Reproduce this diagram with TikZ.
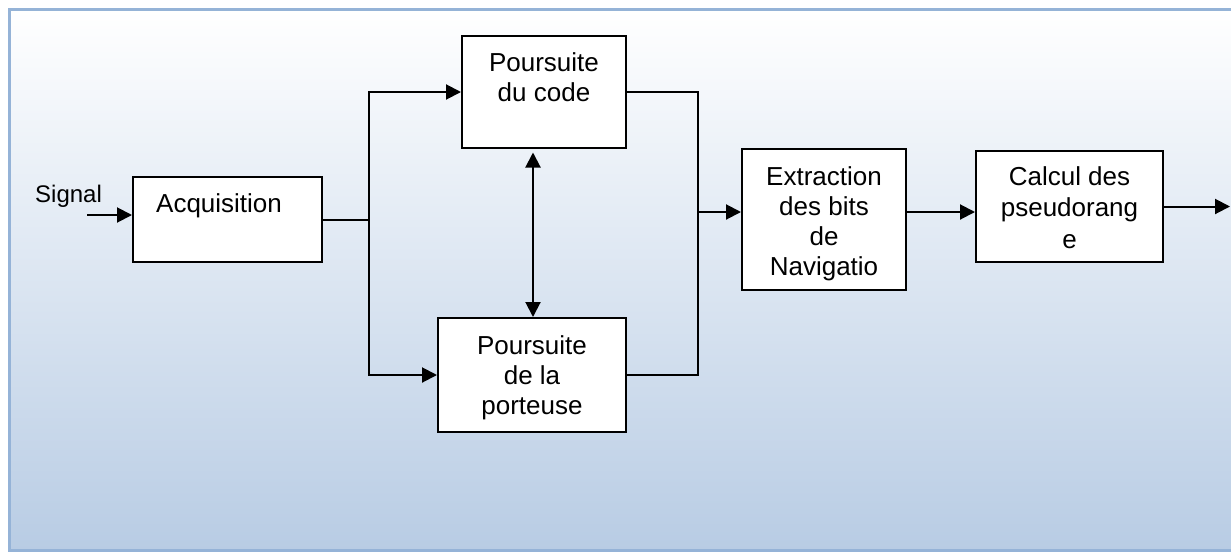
\documentclass[tikz,border=0pt]{standalone}
\usepackage{fontspec}
\setmainfont{Liberation Sans}
\usetikzlibrary{arrows.meta}
\definecolor{framecol}{RGB}{149,179,215}
\definecolor{shadebot}{RGB}{184,204,228}
\tikzset{
  box/.style={draw=black, line width=2pt, fill=white, inner sep=0pt},
  txt/.style={font=\fontsize{26}{30}\selectfont, align=center, inner sep=0pt},
  conn/.style={line width=2pt, draw=black},
  arr/.style={conn, -{Triangle[length=15pt,width=15pt]}},
  biarr/.style={conn, {Triangle[length=15pt,width=15pt]}-{Triangle[length=15pt,width=15pt]}}
}
\begin{document}
\begin{tikzpicture}[x=1pt,y=-1pt]
\useasboundingbox (0,0) rectangle (1231,552);
\clip (0,0) rectangle (1231,552);
\fill[white] (0,0) rectangle (1231,552);
\shade[top color=white, bottom color=shadebot] (9,9.5) rectangle (1245,550.5);
\draw[framecol, line width=3pt] (9,9.5) rectangle (1245,550.5);

% boxes
\node[box, minimum width=189pt, minimum height=85pt] (acq) at (227.5,219.5) {};
\node[box, minimum width=164pt, minimum height=112pt] (code) at (544,92) {};
\node[box, minimum width=188pt, minimum height=114pt] (port) at (532,375) {};
\node[box, minimum width=164pt, minimum height=141pt] (ext) at (824,219.5) {};
\node[box, minimum width=187pt, minimum height=111pt] (calc) at (1069.5,206.5) {};

% texts
\node[txt, anchor=base west] (acqt) at (156,212) {Acquisition};
\node[txt] (codet) at (544,77) {Poursuite\\du code};
\node[txt] (portt) at (532,378) {Poursuite\\de la\\porteuse};
\node[txt] (extt) at (824,224) {Extraction\\des bits\\de\\Navigatio};
\node[txt, font=\fontsize{26}{31.5}\selectfont] (calct) at (1069.5,207.5) {Calcul des\\pseudorang\\e};
\node[font=\fontsize{24}{28}\selectfont, anchor=base west, inner sep=0pt] (sigt) at (35,202) {Signal};

% connectors
\coordinate (sig) at (87,215);
\coordinate (jL) at (369,219.5);
\coordinate (jR) at (697.5,212);
\coordinate (out) at (1230,206.5);

\draw[arr] (sig) -- (sig -| acq.west);
\draw[conn] (acq.east) -- (jL);
\draw[arr] (jL) |- (code.west);
\draw[arr] (jL) |- (port.west);
\draw[conn] (code.east) -| (jR);
\draw[conn] (port.east) -| (jR);
\draw[arr] (jR) -- (jR -| ext.west);
\draw[arr] (ext.east |- jR) -- (calc.west |- jR);
\draw[arr] (calc.east) -- (out);
\draw[biarr] ([xshift=-11pt,yshift=-3.5pt]code.south) -- ([xshift=1pt]port.north);
\end{tikzpicture}
\end{document}
